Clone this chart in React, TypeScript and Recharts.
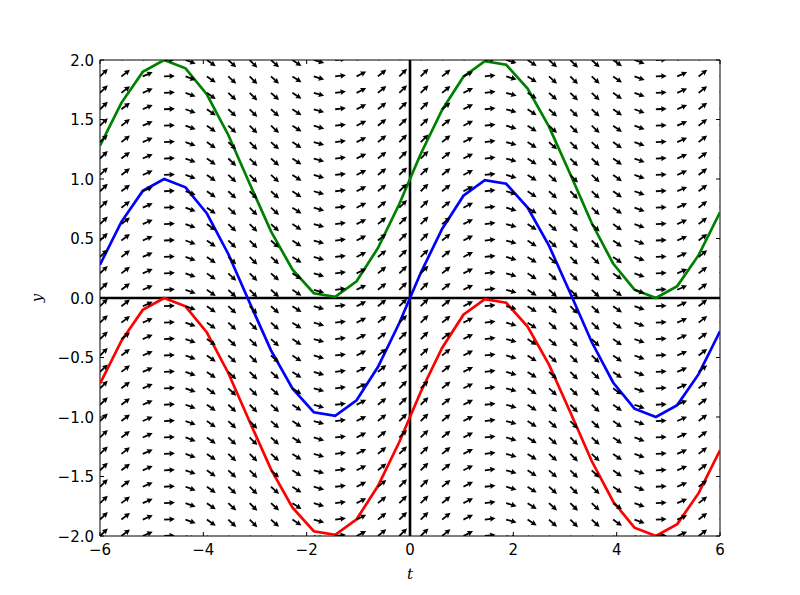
import {
  ComposedChart,
  Line,
  Scatter,
  XAxis,
  YAxis,
  ReferenceLine,
  ReferenceArea,
} from 'recharts';

// plot box (matplotlib axes area)
const W = 800;
const H = 595;
const LEFT = 100;
const RIGHT = 720;
const TOP = 60;
const BOTTOM = 536;

// sample points along t (shared by curves and arrow columns)
const tGrid = [
  -6, -5.586, -5.172, -4.759, -4.345, -3.931, -3.517, -3.103, -2.69, -2.276,
  -1.862, -1.448, -1.034, -0.621, -0.207, 0.207, 0.621, 1.034, 1.448, 1.862,
  2.276, 2.69, 3.103, 3.517, 3.931, 4.345, 4.759, 5.172, 5.586, 6,
];

// arrow rows
const yGrid = [
  -2, -1.862, -1.724, -1.586, -1.448, -1.31, -1.172, -1.034, -0.897, -0.759,
  -0.621, -0.483, -0.345, -0.207, -0.069, 0.069, 0.207, 0.345, 0.483, 0.621,
  0.759, 0.897, 1.034, 1.172, 1.31, 1.448, 1.586, 1.724, 1.862, 2,
];

// slope of the field in each column
const slopes = [
  0.96, 0.77, 0.44, 0.05, -0.36, -0.7, -0.93, -1.0, -0.9, -0.65,
  -0.29, 0.12, 0.51, 0.81, 0.98, 0.98, 0.81, 0.51, 0.12, -0.29,
  -0.65, -0.9, -1.0, -0.93, -0.7, -0.36, 0.05, 0.44, 0.77, 0.96,
];

const greenY = [
  1.28, 1.64, 1.9, 2.0, 1.93, 1.71, 1.37, 0.96, 0.56, 0.24,
  0.04, 0.01, 0.14, 0.42, 0.79, 1.21, 1.58, 1.86, 1.99, 1.96,
  1.76, 1.44, 1.04, 0.63, 0.29, 0.07, 0.0, 0.1, 0.36, 0.72,
];

const blueY = [
  0.28, 0.64, 0.9, 1.0, 0.93, 0.71, 0.37, -0.04, -0.44, -0.76,
  -0.96, -0.99, -0.86, -0.58, -0.21, 0.21, 0.58, 0.86, 0.99, 0.96,
  0.76, 0.44, 0.04, -0.37, -0.71, -0.93, -1.0, -0.9, -0.64, -0.28,
];

const redY = [
  -0.72, -0.36, -0.1, 0.0, -0.07, -0.29, -0.63, -1.04, -1.44, -1.76,
  -1.96, -1.99, -1.86, -1.58, -1.21, -0.79, -0.42, -0.14, -0.01, -0.04,
  -0.24, -0.56, -0.96, -1.37, -1.71, -1.93, -2.0, -1.9, -1.64, -1.28,
];

const xTicks = [-6, -4, -2, 0, 2, 4, 6];
const yTicks = [-2, -1.5, -1, -0.5, 0, 0.5, 1, 1.5, 2];

const toCurve = (ys: number[]) => tGrid.map((t, i) => ({ t, y: ys[i] }));
const greenData = toCurve(greenY);
const blueData = toCurve(blueY);
const redData = toCurve(redY);

const arrows = tGrid.flatMap((t, i) => yGrid.map((y) => ({ t, y, slope: slopes[i] })));

const tickFont = { fontFamily: 'DejaVu Sans', fontSize: 15, fill: '#000' };
const minus = (s: string) => s.replace('-', '\u2212');

function XTick({ x, payload }: any) {
  return (
    <g>
      <line x1={x} x2={x} y1={BOTTOM} y2={BOTTOM - 4} stroke="#000" />
      <line x1={x} x2={x} y1={TOP} y2={TOP + 4} stroke="#000" />
      <text x={x} y={BOTTOM + 19} textAnchor="middle" {...tickFont}>
        {minus(String(payload.value))}
      </text>
    </g>
  );
}

function YTick({ y, payload }: any) {
  return (
    <g>
      <line x1={LEFT} x2={LEFT + 4} y1={y} y2={y} stroke="#000" />
      <line x1={RIGHT} x2={RIGHT - 4} y1={y} y2={y} stroke="#000" />
      <text x={LEFT - 6} y={y + 5.5} textAnchor="end" {...tickFont}>
        {minus(payload.value.toFixed(1))}
      </text>
    </g>
  );
}

// quiver arrow, tail at the grid point, direction from the column slope
function Arrow(props: any) {
  const { cx, cy, payload } = props;
  if (cx == null || cy == null) return null;
  const ang = (-Math.atan(payload.slope) * 180) / Math.PI;
  return (
    <polygon
      points="0,-0.9 5.8,-0.9 5.2,-2.9 10.8,0 5.2,2.9 5.8,0.9 0,0.9"
      transform={`translate(${cx},${cy}) rotate(${ang})`}
      fill="#000"
    />
  );
}

export default function App() {
  return (
    <div style={{ position: 'absolute', left: 0, top: 0, width: W, height: H, background: '#fff' }}>
      <ComposedChart
        width={W}
        height={H}
        margin={{ top: TOP, right: W - RIGHT, bottom: 0, left: 0 }}
      >
        <XAxis
          type="number"
          dataKey="t"
          domain={[-6, 6]}
          ticks={xTicks}
          allowDataOverflow
          axisLine={false}
          tickLine={false}
          tickSize={0}
          height={H - BOTTOM}
          tick={<XTick />}
          label={{
            value: 't',
            position: 'insideBottom',
            offset: 16,
            style: { fontFamily: 'DejaVu Serif', fontStyle: 'italic', fontSize: 15, fill: '#000' },
          }}
        />
        <YAxis
          type="number"
          domain={[-2, 2]}
          ticks={yTicks}
          allowDataOverflow
          axisLine={false}
          tickLine={false}
          tickSize={0}
          width={LEFT}
          tick={<YTick />}
          label={{
            content: () => (
              <text
                x={42}
                y={298}
                transform="rotate(-90 42 298)"
                textAnchor="middle"
                fontFamily="DejaVu Serif"
                fontStyle="italic"
                fontSize={15}
                fill="#000"
              >
                y
              </text>
            ),
          }}
        />
        <Scatter
          data={arrows}
          dataKey="y"
          shape={<Arrow />}
          isAnimationActive={false}
          legendType="none"
        />
        <ReferenceLine y={0} stroke="#000" strokeWidth={2.6} />
        <ReferenceLine x={0} stroke="#000" strokeWidth={2.6} />
        <Line
          data={greenData}
          dataKey="y"
          stroke="#008000"
          strokeWidth={2.7}
          dot={false}
          isAnimationActive={false}
        />
        <Line
          data={blueData}
          dataKey="y"
          stroke="#0000ff"
          strokeWidth={2.7}
          dot={false}
          isAnimationActive={false}
        />
        <Line
          data={redData}
          dataKey="y"
          stroke="#ff0000"
          strokeWidth={2.7}
          dot={false}
          isAnimationActive={false}
        />
        <ReferenceArea x1={-6} x2={6} y1={-2} y2={2} fill="none" stroke="#000" strokeWidth={1} fillOpacity={0} />
      </ComposedChart>
    </div>
  );
}
